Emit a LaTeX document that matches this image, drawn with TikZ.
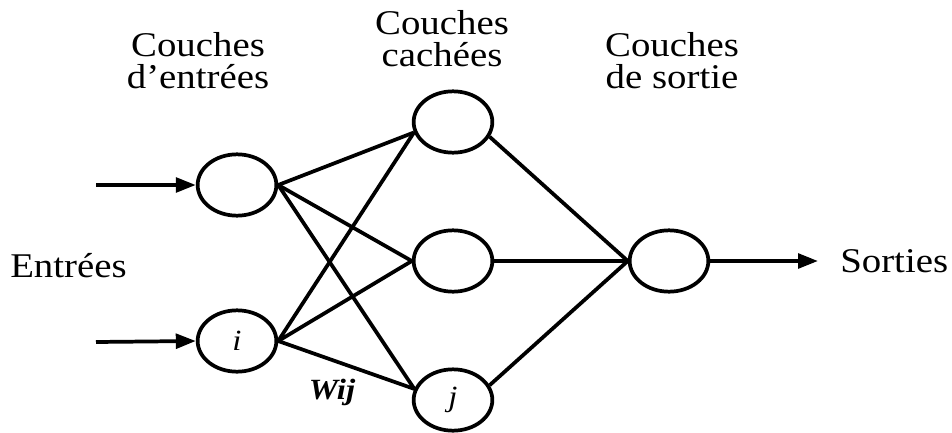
\documentclass[tikz,border=0pt]{standalone}
\usepackage{fontspec}
\setmainfont{Liberation Serif}[FakeStretch=1.12]
\usetikzlibrary{shapes.geometric,arrows.meta}

\begin{document}
\begin{tikzpicture}[
        x=0.75pt, y=-0.75pt,
        font=\fontsize{26}{23.5}\selectfont,
        neuron/.style={draw, ellipse, line width=2.8pt, minimum width=59pt, minimum height=46pt, inner sep=0pt, font=\fontsize{22}{22}\selectfont\itshape},
        link/.style={line width=2.8pt},
        io/.style={line width=2.8pt, -{Triangle[length=15pt, width=11pt]}},
        title/.style={align=center, anchor=base, inner sep=0pt},
        side/.style={anchor=base west, inner sep=0pt}
    ]
    \useasboundingbox (0,0) rectangle (952,432);

% --- Input layer ---
    \node[neuron] (in1) at (237,185) {};
    \node[neuron] (in2) at (237,341) {i};

% --- Hidden layer ---
    \node[neuron] (h1) at (453,122) {};
    \node[neuron] (h2) at (453,261) {};
    \node[neuron] (h3) at (453,400) {j};

% --- Output layer ---
    \node[neuron] (out) at (669,261) {};

% --- Layer titles (anchored on the last line) ---
    \node[title] (tin)  at (198,88) {Couches\\d’entrées};
    \node[title] (thid) at (442,66) {Couches\\cachées};
    \node[title] (tout) at (672,88) {Couches\\de sortie};

% --- Side labels ---
    \node[side] (lin)  at (10,277)  {Entrées};
    \node[side] (lout) at (840,272) {Sorties};
    \node[inner sep=0pt, anchor=base, font=\fontsize{22}{22}\selectfont\bfseries\itshape] (w) at (332,399) {Wij};

% --- Inputs and output ---
    \coordinate (x1) at (96,185);
    \coordinate (x2) at (96,342);
    \coordinate (y)  at (818,261);
    \draw[io] (x1) -- (in1.west);
    \draw[io] (x2) -- (in2.west);
    \draw[io] (out.east) -- (y);

% --- Weights input -> hidden ---
    \foreach \src in {in1,in2} {
        \draw[link] (\src.east) -- (h1.195);
        \draw[link] (\src.east) -- (h2.west);
        \draw[link] (\src.east) -- (h3.164);
    }

% --- Weights hidden -> output ---
    \draw[link] (h1.-22) -- (out.west);
    \draw[link] (h2.east) -- (out.west);
    \draw[link] (h3.22) -- (out.west);

\end{tikzpicture}
\end{document}
